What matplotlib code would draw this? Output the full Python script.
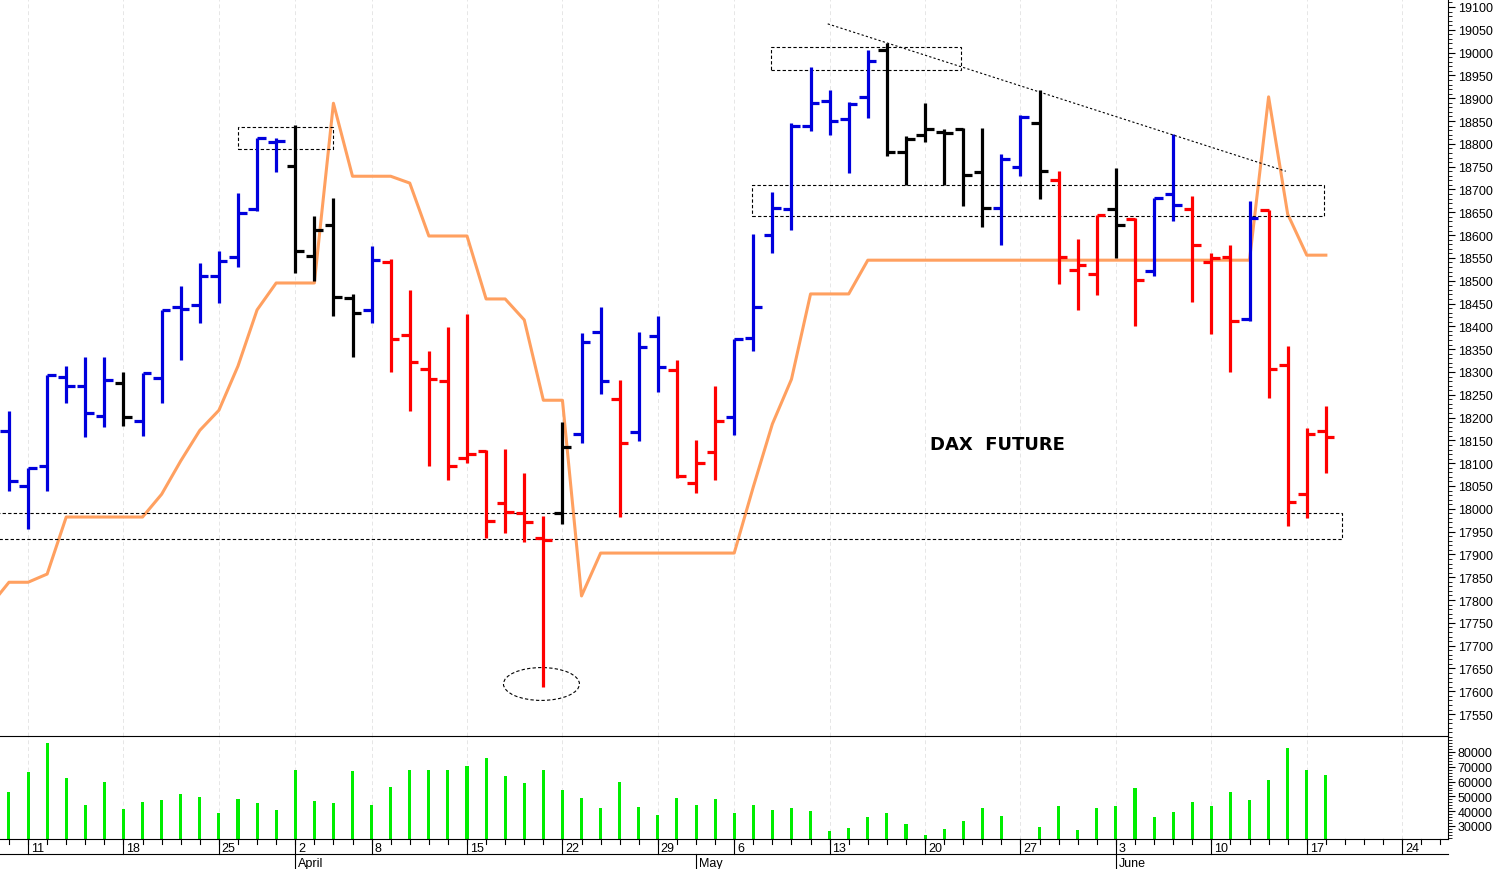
import matplotlib
matplotlib.use("Agg")
import matplotlib.pyplot as plt
from matplotlib.patches import Rectangle, Ellipse
from matplotlib.ticker import MultipleLocator
import matplotlib.transforms as mtrans

plt.rcParams["font.family"] = ["Liberation Sans", "DejaVu Sans"]

opens  = [18170,18050,18094,18289,18269,18203,18276,18192,18286,18442,18447,18510,18552,18657,18804,
          18751,18554,18622,18462,18436,18541,18381,18306,18280,18111,18126,18012,17990,17936,17990,
          18164,18387,18240,18168,18379,18304,18056,18124,18201,18374,18600,18657,18839,18894,18854,
          18903,19006,18782,18819,18826,18832,18738,18659,18749,18846,18721,18523,18514,18657,18635,
          18521,18690,18657,18541,18552,18416,18655,18315,18032,18170]
highs  = [18214,18089,18293,18313,18333,18333,18300,18297,18436,18488,18539,18565,18692,18813,18813,
          18841,18642,18681,18471,18576,18547,18479,18346,18398,18427,18129,18131,18078,17984,18190,
          18385,18442,18282,18387,18422,18326,18151,18269,18372,18602,18694,18846,18968,18918,18892,
          19006,19021,18817,18889,18832,18835,18835,18778,18863,18918,18740,18591,18644,18747,18637,
          18681,18822,18686,18561,18578,18675,18655,18357,18177,18225]
lows   = [18039,17955,18039,18232,18157,18179,18181,18159,18232,18326,18407,18451,18530,18653,18738,
          18517,18499,18422,18333,18407,18300,18214,18093,18063,18100,17936,17947,17927,17609,17966,
          18144,18251,17982,18148,18256,18067,18034,18063,18161,18346,18561,18611,18828,18819,18736,
          18857,18773,18710,18804,18710,18664,18618,18578,18729,18679,18493,18436,18468,18550,18400,
          18510,18631,18453,18383,18300,18411,18243,17962,17980,18078]
closes = [18061,18089,18293,18269,18210,18282,18201,18297,18436,18438,18510,18543,18648,18813,18806,
          18565,18611,18464,18429,18545,18372,18322,18284,18093,18120,17973,17993,17971,17931,18135,
          18365,18280,18144,18354,18311,18072,18100,18192,18372,18442,18659,18839,18889,18850,18887,
          18982,18782,18811,18832,18824,18732,18659,18767,18859,18740,18552,18534,18644,18622,18501,
          18681,18666,18578,18550,18411,18637,18306,18015,18164,18157]
bar_colors = list("bbbbbbkbbbbbbbbkkkkbrrrrrrrrrkbbrbbrrrbbbbbbbbkkkkkkbbkrrrkrbbrrrbrrrr")
volumes = [52800,66700,85900,62400,44200,59500,41300,46200,47300,51600,49800,38800,48000,45300,40800,
           67800,46700,45300,67200,44400,56600,68100,67800,68100,70700,76000,63600,59300,67600,54300,
           49100,42000,59700,42800,37600,48700,44200,48000,38800,44100,40500,42300,39800,26600,28700,
           36000,38700,31600,23700,27800,33200,41900,36600,20800,29400,43700,27600,41900,43700,55900,
           36400,39600,46400,43500,53000,47300,61200,82700,68000,64300]
# orange stop line, first value belongs to the session before the first bar
stop_line = [17787,17839,17839,17857,17982,17982,17982,17982,17982,18032,18105,18172,18216,18313,18436,
             18495,18495,18495,18889,18729,18729,18729,18714,18598,18598,18598,18460,18460,18414,18238,
             18238,17809,17903,17903,17903,17903,17903,17903,17903,17903,18048,18186,18284,18471,18471,
             18471,18545] + [18545]*19 + [18545,18903,18646,18556,18556]
week_idx = [1,6,11,15,19,24,29,34,38,43,48,53,58,63,68,73]
week_lbl = ["11","18","25","2","8","15","22","29","6","13","20","27","3","10","17","24"]
month_idx = [15,36,58]
month_lbl = ["April","May","June"]

cmap = {"b": "#0000dd", "r": "#ff0000", "k": "#000000"}
W, H = 1497, 870
fig = plt.figure(figsize=(W/100, H/100), dpi=100)
xl, xr = -0.47, 75.4
axr = 1448/W
ax = fig.add_axes([0, 1-737/H, axr, 737/H])
av = fig.add_axes([0, 1-840/H, axr, 103/H])

n = len(opens)
for i in range(n):
    c = cmap[bar_colors[i]]
    ax.plot([i, i], [lows[i], highs[i]], color=c, lw=2.3, solid_capstyle="butt")
    ax.plot([i-0.45, i], [opens[i], opens[i]], color=c, lw=2.3, solid_capstyle="butt")
    ax.plot([i, i+0.45], [closes[i], closes[i]], color=c, lw=2.3, solid_capstyle="butt")
sx = list(range(-1, len(stop_line)-1))
ax.plot(sx, stop_line, color="#ffa060", lw=2.2, zorder=1)

dash = dict(fill=False, ls=(0, (3, 2)), lw=0.8, ec="black")
for (x0, x1, y0, y1) in [(11.99, 16.96, 18789, 18837), (39.95, 49.9, 18962, 19012),
                         (38.95, 68.9, 18642, 18710), (-0.6, 69.84, 17933, 17990)]:
    ax.add_patch(Rectangle((x0, y0), x1-x0, y1-y0, **dash))
ax.add_patch(Ellipse((27.9, 17616), 3.98, 72, **dash))
ax.plot([42.9, 66.9], [19063, 18740], color="black", ls=(0, (2, 2)), lw=0.8)
ax.text(51.8, 18142, "DAX  FUTURE", fontsize=13, fontweight="bold", ha="center", va="center",
        family=["DejaVu Sans"])

for a in (ax, av):
    a.set_xlim(xl, xr)
    for w in week_idx:
        a.axvline(w, color="#e6e6e6", ls=(0, (4, 3)), lw=0.7, zorder=0)
    a.yaxis.tick_right()
    a.tick_params(axis="y", labelsize=9, length=5, direction="out", pad=2)
    a.tick_params(axis="y", which="minor", length=3)
    a.set_xticks([])
    for s in ("left", "top"):
        a.spines[s].set_visible(False)
ax.spines["bottom"].set_visible(False)
ax.set_ylim(17502, 19117.5)
ax.yaxis.set_minor_locator(MultipleLocator(10))
ax.set_yticks(list(range(17550, 19101, 50)))

av.bar(range(n), volumes, width=0.16, color="#00ee00", bottom=0)
av.set_ylim(21200, 90800)
av.set_yticks(list(range(30000, 80001, 10000)))
av.yaxis.set_minor_locator(MultipleLocator(2000))
av.spines["top"].set_visible(True)

tr = mtrans.blended_transform_factory(av.transData, fig.transFigure)
yb = 1-840/H
for i in range(0, 76):
    av.plot([i, i], [yb, yb-5/H], transform=tr, color="black", lw=0.8, clip_on=False)
for w, l in zip(week_idx, week_lbl):
    av.plot([w, w], [yb, yb-15/H], transform=tr, color="black", lw=0.8, clip_on=False)
    av.text(w+0.15, yb-9/H, l, transform=tr, fontsize=9, ha="left", va="center")
fig.add_artist(plt.Line2D([0, axr], [yb-15/H, yb-15/H], color="black", lw=0.8))
for m, l in zip(month_idx, month_lbl):
    av.plot([m, m], [yb-15/H, 0], transform=tr, color="black", lw=0.8, clip_on=False)
    av.text(m+0.15, yb-24/H, l, transform=tr, fontsize=9, ha="left", va="center")

fig.savefig("out.png", dpi=100)
